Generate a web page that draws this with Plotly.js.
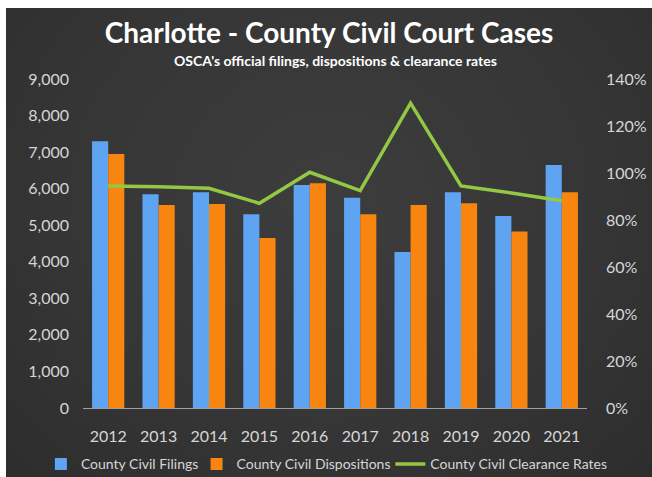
<!DOCTYPE html>
<html>
<head>
<meta charset="utf-8">
<script src="https://cdn.plot.ly/plotly-3.0.1.min.js"></script>
<style>
html,body{margin:0;padding:0;background:#ffffff;}
#chart{position:absolute;left:6px;top:8px;width:646px;height:469px;
  background:radial-gradient(ellipse at 50% 40%, #3d3d3d 0%, #363636 55%, #2d2d2d 100%);}
</style>
</head>
<body>
<div id="chart"></div>
<script>
const years = ['2012','2013','2014','2015','2016','2017','2018','2019','2020','2021'];
const filings = [7300, 5850, 5900, 5300, 6100, 5750, 4270, 5900, 5250, 6650];
const dispositions = [6950, 5550, 5580, 4650, 6150, 5300, 5550, 5600, 4830, 5900];
const clearance = [0.945, 0.942, 0.935, 0.871, 1.003, 0.925, 1.297, 0.945, 0.915, 0.882];
const leftTicks = [0,1000,2000,3000,4000,5000,6000,7000,8000,9000];
const leftTickText = ['0','1,000','2,000','3,000','4,000','5,000','6,000','7,000','8,000','9,000'];
const rightTicks = [0,0.2,0.4,0.6,0.8,1.0,1.2,1.4];
const rightTickText = ['0%','20%','40%','60%','80%','100%','120%','140%'];

const fontFam = 'Lato, "Open Sans", sans-serif';
const tickColor = '#d6d6d6';

const traces = [
  {type:'bar', name:'County Civil Filings', x:years, y:filings, legend:'legend',
   marker:{color:'#5ea4f2', line:{width:0}}},
  {type:'bar', name:'County Civil Dispositions', x:years, y:dispositions, legend:'legend2',
   marker:{color:'#f7850f', line:{width:0}}},
  {type:'scatter', mode:'lines', name:'County Civil Clearance Rates', x:years, y:clearance, legend:'legend3',
   yaxis:'y2', line:{color:'#92c843', width:3.5}}
];

function legendAt(xc) {
  return {orientation:'h', xref:'container', yref:'container', x:xc, xanchor:'left',
          y:0.027, yanchor:'middle', font:{size:14, color:tickColor},
          bgcolor:'rgba(0,0,0,0)', borderwidth:0, itemwidth:30};
}

const layout = {
  width:646, height:469,
  margin:{l:77, r:65, t:71, b:69, autoexpand:false},
  paper_bgcolor:'rgba(0,0,0,0)',
  plot_bgcolor:'rgba(0,0,0,0)',
  barmode:'group',
  bargap:0.36,
  bargroupgap:0,
  showlegend:true,
  font:{family:fontFam, color:tickColor},
  title:{text:'<b>Charlotte - County Civil Court Cases</b>', x:0.5, xanchor:'center',
         yref:'container', y:0.947, yanchor:'middle',
         font:{family:fontFam, size:28, color:'#ffffff'}},
  annotations:[
    {text:'<b>OSCA\'s official filings, dispositions &amp; clearance rates</b>', xref:'paper', yref:'paper',
     x:0.5, xanchor:'center', y:1.0, yanchor:'middle', yshift:19, showarrow:false,
     font:{family:fontFam, size:14, color:'#ffffff'}}
  ],
  xaxis:{type:'category', showgrid:false, showline:true, linecolor:'#a0a0a0', linewidth:1,
         ticks:'', ticklabelstandoff:14, tickfont:{size:16, color:tickColor}, automargin:false},
  yaxis:{range:[0,9000], tickvals:leftTicks, ticktext:leftTickText, showgrid:false, zeroline:false,
         showline:false, ticks:'', ticklabelstandoff:13, tickfont:{size:16, color:tickColor}, automargin:false},
  yaxis2:{range:[0,1.4], tickvals:rightTicks, ticktext:rightTickText, overlaying:'y', side:'right',
          showgrid:false, zeroline:false, showline:false, ticks:'', ticklabelstandoff:18,
          tickfont:{size:16, color:tickColor}, automargin:false},
  legend:legendAt(0.054),
  legend2:legendAt(0.295),
  legend3:legendAt(0.595)
};

Plotly.newPlot('chart', traces, layout, {displayModeBar:false, staticPlot:true});
</script>
</body>
</html>
